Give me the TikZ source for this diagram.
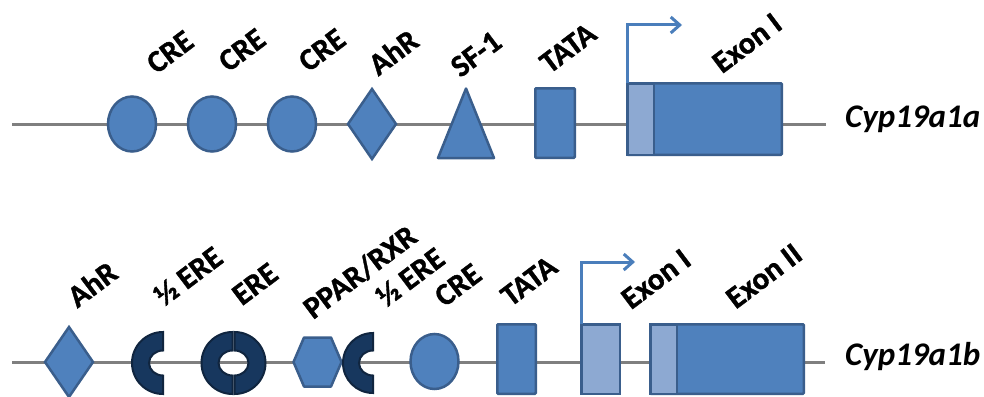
\documentclass[tikz,border=0pt]{standalone}
\usepackage{fontspec}
\setmainfont{Carlito}[BoldFeatures={FakeBold=1.2}]
\usetikzlibrary{shapes.geometric,arrows.meta}
\definecolor{boxblue}{HTML}{4F81BD}
\definecolor{boxedge}{HTML}{3A5E8C}
\definecolor{lightblue}{HTML}{8DA9D2}
\definecolor{navy}{HTML}{17375E}
\definecolor{navyedge}{HTML}{10253F}
\definecolor{dnaline}{HTML}{7F7F7F}
\definecolor{tssblue}{HTML}{4A7EBB}
\tikzset{
 dna/.style={draw=dnaline, line width=3pt},
 elem/.style={draw=boxedge, fill=boxblue, line width=2.5pt, inner sep=0pt, outer sep=0pt},
 lightelem/.style={elem, fill=lightblue},
 circ/.style={elem, ellipse, minimum width=48pt, minimum height=55pt},
 diam/.style={elem, diamond, minimum width=48pt, minimum height=70pt},
 boxel/.style={elem, rectangle, rounded corners=1pt},
 halfere/.style={draw=navyedge, fill=navy, line width=2pt},
 lab/.style={font=\fontsize{31}{37}\selectfont\bfseries, rotate=37, inner sep=0pt},
 gene/.style={font=\fontsize{33}{39}\selectfont\bfseries\itshape, anchor=base west, inner sep=0pt},
 tss/.style={draw=tssblue, line width=3pt, -{Straight Barb[length=9pt,width=16pt]}},
}
\begin{document}
\begin{tikzpicture}[x=1pt,y=-1pt]
\useasboundingbox[fill=white] (0,0) rectangle (984,396);
% ---------- Cyp19a1a ----------
\coordinate (a0) at (12,124);
\coordinate (a1) at (826,124);
\draw[dna] (a0) -- (a1);
\node[circ] (creA1) at (132,124) {};
\node[circ] (creA2) at (212,124) {};
\node[circ] (creA3) at (292,124) {};
\node[diam] (ahrA) at (372,124) {};
\coordinate (sfA) at (466,124);
\draw[elem, line join=round] (466,88.5) -- (494,158) -- (438,158) -- cycle;
\node[boxel, minimum width=39.5pt, minimum height=69.5pt] (tataA) at (555,123) {};
\node[boxel, minimum width=154.5pt, minimum height=71.5pt] (exonA) at (704.5,119) {};
\node[lightelem, rectangle, minimum width=26.5pt, minimum height=71.5pt] (utrA) at (640.5,119) {};
\coordinate (tssAend) at (682,25);
\draw[tss] (utrA.north west) |- (tssAend);
\node[lab] (lcreA1) at (170,52) {CRE};
\node[lab] (lcreA2) at (242,50) {CRE};
\node[lab] (lcreA3) at (322,50) {CRE};
\node[lab] (lahrA) at (393,52) {AhR};
\node[lab] (lsfA) at (476,54) {SF-1};
\node[lab] (ltataA) at (568,48) {TATA};
\node[lab] (lexonA) at (747,43) {Exon I};
\node[gene] (geneA) at (845,127) {Cyp19a1a};
% ---------- Cyp19a1b ----------
\coordinate (b0) at (12,362);
\coordinate (b1) at (825,362);
\draw[dna] (b0) -- (b1);
\node[diam] (ahrB) at (69,362) {};
\coordinate (hereB1) at (163,363);
\draw[halfere] (163,332) arc[start angle=270, end angle=90, radius=31] -- ++(0,-18.5)
  arc[start angle=90, end angle=270, x radius=14, y radius=12.5] -- cycle;
\coordinate (ereB) at (233.5,363);
\draw[halfere] (232.5,332) arc[start angle=270, end angle=90, radius=31] -- ++(0,-18.5)
  arc[start angle=90, end angle=270, x radius=14, y radius=12.5] -- cycle;
\draw[halfere] (234.5,332) arc[start angle=-90, end angle=90, radius=31] -- ++(0,-18.5)
  arc[start angle=90, end angle=-90, x radius=14, y radius=12.5] -- cycle;
\coordinate (pparB) at (317.5,362);
\draw[elem, line join=round] (293.5,362) -- (304,337.5) -- (331,337.5) -- (341.5,362) -- (331,386.5) -- (304,386.5) -- cycle;
\coordinate (hereB2) at (373,363);
\draw[halfere] (373,333) arc[start angle=270, end angle=90, radius=30] -- ++(0,-17.5)
  arc[start angle=90, end angle=270, x radius=14, y radius=12.5] -- cycle;
\node[circ] (creB) at (434.5,361.5) {};
\node[boxel, minimum width=38.5pt, minimum height=69.5pt] (tataB) at (516.5,359) {};
\node[lightelem, rectangle, minimum width=38.5pt, minimum height=69.5pt] (exonB1) at (600.5,359) {};
\node[boxel, minimum width=153.5pt, minimum height=69.5pt] (exonB2) at (727,359) {};
\node[lightelem, rectangle, minimum width=26.5pt, minimum height=69.5pt] (utrB) at (663.5,359) {};
\coordinate (tssBend) at (635,262);
\draw[tss] (exonB1.north west) |- (tssBend);
\node[lab] (lahrB) at (92,284) {AhR};
\node[lab] (lhereB1) at (188,276) {½ ERE};
\node[lab] (lereB) at (255,284) {ERE};
\node[lab] (lpparB) at (360,272) {PPAR/RXR};
\node[lab] (lhereB2) at (410,277) {½ ERE};
\node[lab] (lcreB) at (458,285) {CRE};
\node[lab] (ltataB) at (529,281) {TATA};
\node[lab] (lexonB1) at (656,279) {Exon I};
\node[lab] (lexonB2) at (764,276) {Exon II};
\node[gene] (geneB) at (845,365) {Cyp19a1b};
\end{tikzpicture}
\end{document}
